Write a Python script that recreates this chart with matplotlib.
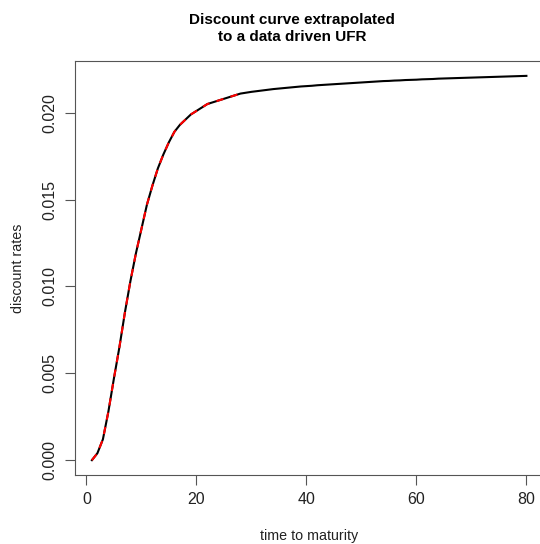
import matplotlib
matplotlib.use("Agg")
import matplotlib.pyplot as plt

# maturities (years) and discount rates
maturity = list(range(1, 81))
rates = [
    0.00000, 0.00040, 0.00120, 0.00280, 0.00470, 0.00650, 0.00850, 0.01030, 0.01190, 0.01330,
    0.01470, 0.01580, 0.01680, 0.01760, 0.01830, 0.01890, 0.01930, 0.01960, 0.01990, 0.02010,
    0.02030, 0.02050, 0.02060, 0.02070, 0.02080, 0.02090, 0.02100, 0.02110, 0.02115, 0.02120,
    0.02124, 0.02128, 0.02132, 0.02136, 0.02139, 0.02142, 0.02145, 0.02148, 0.02151, 0.02153,
    0.02155, 0.02158, 0.02160, 0.02162, 0.02164, 0.02166, 0.02168, 0.02170, 0.02172, 0.02174,
    0.02176, 0.02178, 0.02180, 0.02182, 0.02183, 0.02185, 0.02186, 0.02188, 0.02189, 0.02190,
    0.02192, 0.02193, 0.02194, 0.02196, 0.02197, 0.02198, 0.02199, 0.02200, 0.02201, 0.02202,
    0.02203, 0.02204, 0.02205, 0.02206, 0.02207, 0.02208, 0.02209, 0.02210, 0.02211, 0.02212,
]

# observed (market) part, shown dashed in red
obs_maturity = list(range(1, 29))
obs_rates = rates[:28]

x_ticks = [0, 20, 40, 60, 80]
y_ticks = [0.000, 0.005, 0.010, 0.015, 0.020]

plt.rcParams['font.family'] = ['Liberation Sans', 'DejaVu Sans']

fig = plt.figure(figsize=(5.4, 5.44), dpi=100)
ax = fig.add_axes([0.138, 0.126, 0.869, 0.762])

ax.plot(maturity, rates, color='black', lw=1.5)
ax.plot(obs_maturity, obs_rates, color='red', lw=1.5, dashes=(3.5, 3.5))

ax.set_xlim(-2.16, 83.16)
ax.set_ylim(-0.00088, 0.02298)
ax.set_xticks(x_ticks)
ax.set_xticklabels([str(t) for t in x_ticks])
ax.set_yticks(y_ticks)
ax.set_yticklabels(["%.3f" % t for t in y_ticks], rotation=90, va='center')

for s in ax.spines.values():
    s.set_color('#555555')
    s.set_linewidth(0.8)
ax.tick_params(direction='out', length=7, width=0.8, color='#555555',
               labelsize=11.5, labelcolor='#222222', pad=5)

ax.set_xlabel("time to maturity", fontsize=10.3, color='#222222', labelpad=16)
ax.set_ylabel("discount rates", fontsize=10.3, color='#222222', labelpad=13)
fig.text(0.541, 0.976, "Discount curve extrapolated\nto a data driven UFR",
         ha='center', va='top', fontsize=11, fontweight='bold', linespacing=1.25)

fig.savefig("out.png", dpi=100)
